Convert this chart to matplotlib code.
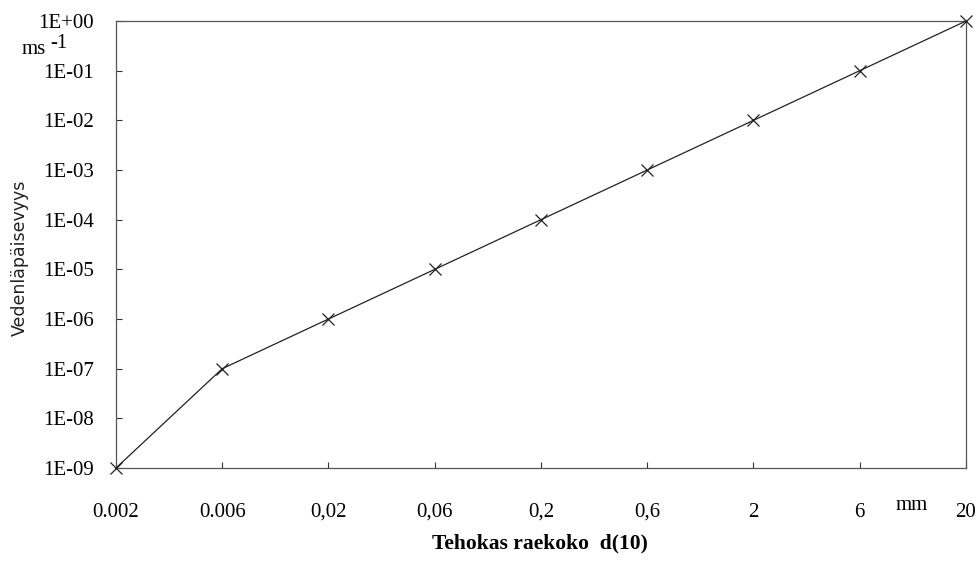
import numpy as np
import matplotlib
matplotlib.use('Agg')
import matplotlib.pyplot as plt

# raekoko (mm) ja vedenläpäisevyys (m/s)
raekoko = ['0.002', '0.006', '0,02', '0,06', '0,2', '0,6', '2', '6', '20']
k = [1e-9, 1e-7, 1e-6, 1e-5, 1e-4, 1e-3, 1e-2, 1e-1, 1e0]
y_labels = ['1E-09', '1E-08', '1E-07', '1E-06', '1E-05', '1E-04',
            '1E-03', '1E-02', '1E-01', '1E+00']

serif = 'Liberation Serif'
W, H = 979, 561
fig = plt.figure(figsize=(W/100, H/100), dpi=100)
ax = fig.add_axes([116/W, 1-468/H, (966-116)/W, (468-21)/H])

x = np.arange(len(raekoko))
ax.plot(x, k, '-', color='#222222', lw=0.9, marker='x', ms=8, mew=0.9,
        mec='#222222', clip_on=False, zorder=3)

ax.set_yscale('log')
ax.set_ylim(1e-9, 1e0)
ax.set_xlim(0, len(raekoko)-1)
ax.set_yticks([10.0**e for e in range(-9, 1)])
ax.set_yticklabels(y_labels, fontfamily=serif, fontsize=15)
ax.yaxis.set_minor_locator(matplotlib.ticker.NullLocator())
ax.set_xticks(x)
ax.set_xticklabels(raekoko, fontfamily=serif, fontsize=15)
ax.tick_params(direction='in', length=4, width=0.8, color='#333333',
               top=False, right=False)
ax.tick_params(axis='y', pad=16)
ax.tick_params(axis='x', pad=25)
for s in ax.spines.values():
    s.set_color('#555555')
    s.set_linewidth(0.9)

# yksiköt
fig.text(22/W, 1-49/H, 'ms', fontfamily=serif, fontsize=15,
         ha='left', va='center')
fig.text(50/W, 1-44/H, '-1', fontfamily=serif, fontsize=15,
         ha='left', va='center')
fig.text(912/W, 1-506/H, 'mm', fontfamily=serif, fontsize=15,
         ha='center', va='center')

fig.text(540/W, 1-543/H, 'Tehokas raekoko  d(10)', fontfamily=serif,
         fontsize=15.5, fontweight='bold', ha='center', va='center')
fig.text(20/W, 1-258/H, 'Vedenläpäisevyys', fontfamily='DejaVu Sans',
         fontsize=12.5, rotation=90, ha='center', va='center', color='#222222')

fig.savefig('out.png', dpi=100)
